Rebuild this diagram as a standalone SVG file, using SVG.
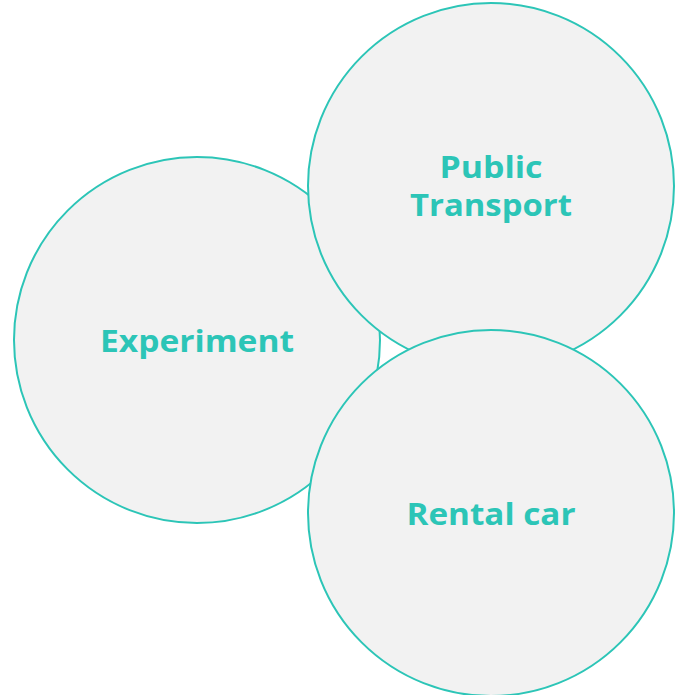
<svg xmlns="http://www.w3.org/2000/svg" width="679" height="695" viewBox="0 0 679 695">
<style>
.c{fill:#f2f2f2;stroke:#2cc5b7;stroke-width:2}
.t{fill:#2cc5b7;font-family:"Open Sans","DejaVu Sans",sans-serif;font-weight:bold;font-size:30px;text-anchor:middle}
</style>
<rect width="679" height="695" fill="#ffffff"/>
<g id="experiment">
<circle class="c" cx="197" cy="340" r="183"/>
<text class="t" x="197" y="352" textLength="194" lengthAdjust="spacingAndGlyphs">Experiment</text>
</g>
<g id="public-transport">
<circle class="c" cx="491" cy="186" r="183"/>
<text class="t" x="491" y="178" textLength="103" lengthAdjust="spacingAndGlyphs">Public</text>
<text class="t" x="491" y="216" textLength="162" lengthAdjust="spacingAndGlyphs">Transport</text>
</g>
<g id="rental-car">
<circle class="c" cx="491" cy="513" r="183"/>
<text class="t" x="491" y="525" textLength="169" lengthAdjust="spacingAndGlyphs">Rental car</text>
</g>
<g id="connectors"/>
</svg>
